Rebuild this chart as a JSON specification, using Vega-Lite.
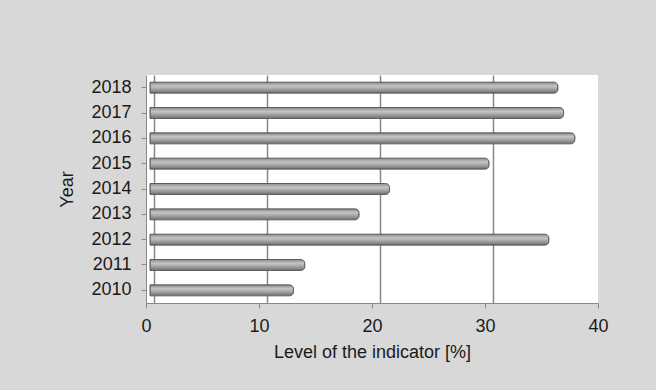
{
  "$schema": "https://vega.github.io/schema/vega-lite/v6.json",
  "width": 452,
  "height": 228,
  "autosize": {"type": "none"},
  "padding": {"left": 146, "top": 75, "right": 58, "bottom": 87},
  "background": "#d8d8d8",
  "data": {
    "values": [
      {"Year": "2010", "Level": 12.7},
      {"Year": "2011", "Level": 13.7},
      {"Year": "2012", "Level": 35.3},
      {"Year": "2013", "Level": 18.5},
      {"Year": "2014", "Level": 21.2},
      {"Year": "2015", "Level": 30.0},
      {"Year": "2016", "Level": 37.6},
      {"Year": "2017", "Level": 36.6},
      {"Year": "2018", "Level": 36.1}
    ]
  },
  "encoding": {
    "y": {
      "field": "Year",
      "type": "ordinal",
      "sort": "descending",
      "title": "Year",
      "axis": {
        "domainColor": "#888888",
        "tickColor": "#888888",
        "tickSize": 5,
        "labelPadding": 10,
        "labelFontSize": 18,
        "labelColor": "#1a1a1a",
        "labelFont": "Liberation Sans",
        "titleFont": "Liberation Sans",
        "titleFontSize": 18,
        "titleFontWeight": "normal",
        "titleColor": "#1a1a1a",
        "titlePadding": 14
      }
    }
  },
  "layer": [
    {
      "mark": {"type": "bar", "height": 11, "opacity": 0},
      "encoding": {
        "x": {
          "field": "Level",
          "type": "quantitative",
          "scale": {"domain": [0, 40]},
          "title": "Level of the indicator [%]",
          "axis": {
            "orient": "bottom",
            "grid": false,
            "values": [0, 10, 20, 30, 40],
            "domainColor": "#888888",
            "tickColor": "#888888",
            "tickSize": 5,
            "labelPadding": 9,
            "labelFontSize": 18,
            "labelColor": "#1a1a1a",
            "labelFont": "Liberation Sans",
            "labelFlush": false,
            "titleFont": "Liberation Sans",
            "titleFontSize": 18,
            "titleFontWeight": "normal",
            "titleColor": "#1a1a1a",
            "titlePadding": 8
          }
        }
      }
    },
    {
      "mark": {"type": "bar", "height": 11, "opacity": 0},
      "encoding": {
        "x": {
          "field": "Level",
          "type": "quantitative",
          "scale": {"domain": [-0.708, 39.292]},
          "axis": {
            "orient": "bottom",
            "title": null,
            "grid": true,
            "values": [0, 10, 20, 30, 40],
            "gridColor": "#888888",
            "gridWidth": 1.5,
            "domain": false,
            "ticks": false,
            "labels": false
          }
        }
      }
    },
    {
      "mark": {
        "type": "bar",
        "height": 11,
        "cornerRadiusEnd": 4,
        "stroke": "#5e5e5e",
        "strokeWidth": 1,
        "fill": {
          "gradient": "linear",
          "x1": 0, "y1": 0, "x2": 0, "y2": 1,
          "stops": [
            {"offset": 0, "color": "#8a8a8a"},
            {"offset": 0.35, "color": "#c4c4c4"},
            {"offset": 0.6, "color": "#a8a8a8"},
            {"offset": 1, "color": "#6e6e6e"}
          ]
        }
      },
      "encoding": {
        "x": {
          "field": "Level",
          "type": "quantitative",
          "scale": {"domain": [-0.354, 39.646]},
          "axis": null
        }
      }
    }
  ],
  "resolve": {"scale": {"x": "independent"}, "axis": {"x": "independent"}},
  "config": {
    "view": {"fill": "white", "stroke": null}
  }
}
